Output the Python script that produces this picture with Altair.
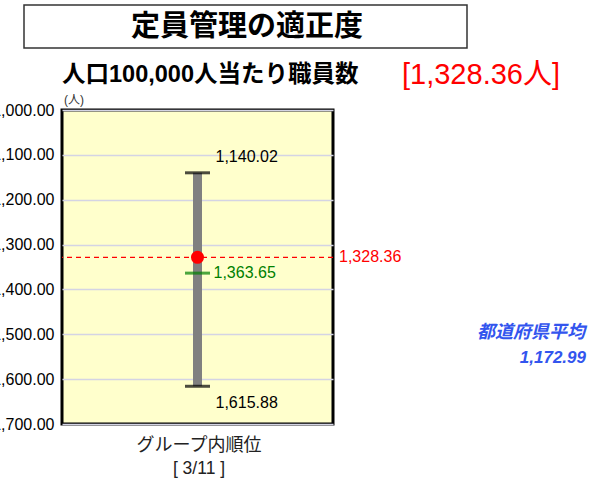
import altair as alt
import pandas as pd

# values
own_value = 1328.36
group_min = 1140.02
group_max = 1615.88
group_mid = 1363.65
pref_avg = 1172.99
rank = 3
group_n = 11
y_ticks = [1000, 1100, 1200, 1300, 1400, 1500, 1600, 1700]

FONT = "Liberation Sans, Arial, Noto Sans CJK JP"
JFONT = "Liberation Sans, Noto Sans CJK JP"

W, H = 271, 314

pos = pd.DataFrame({"x": [0.5], "lo": [group_min], "hi": [group_max],
                    "mid": [group_mid], "own": [own_value]})

xs = alt.Scale(domain=[0, 1])
ys = alt.Scale(domain=[1000, 1700], reverse=True, nice=False, zero=False)
X = alt.X("x:Q", scale=xs, axis=None)

base = alt.Chart(pos)

grid = alt.Chart(pd.DataFrame({"t": y_ticks})).mark_rule(opacity=0).encode(
    y=alt.Y("t:Q", scale=ys, axis=alt.Axis(
        values=y_ticks, format=",.2f", title=None, grid=True,
        gridColor="#d4d4e4", gridWidth=1.5, ticks=False, domain=False,
        labelFontSize=16, labelFont=FONT, labelColor="black", labelPadding=8))
)

bar = base.mark_rule(color="#808080", strokeWidth=9).encode(
    x=X, y=alt.Y("lo:Q", scale=ys), y2="hi:Q")
cap_lo = base.mark_tick(color="black", orient="horizontal", size=25, thickness=3).encode(
    x=X, y=alt.Y("lo:Q", scale=ys))
cap_hi = base.mark_tick(color="black", orient="horizontal", size=25, thickness=3).encode(
    x=X, y=alt.Y("hi:Q", scale=ys))
mid_tick = base.mark_tick(color="#008000", orient="horizontal", size=25, thickness=3).encode(
    x=X, y=alt.Y("mid:Q", scale=ys))
dash = base.mark_rule(color="red", strokeDash=[5, 4], strokeWidth=1.2).encode(
    y=alt.Y("own:Q", scale=ys))
dot = base.mark_circle(color="red", size=170, opacity=1).encode(
    x=X, y=alt.Y("own:Q", scale=ys))

lbl_lo = base.mark_text(align="left", baseline="middle", dx=18, dy=-16,
                        fontSize=16, font=FONT, color="black").encode(
    x=X, y=alt.Y("lo:Q", scale=ys), text=alt.Text("lo:Q", format=",.2f"))
lbl_hi = base.mark_text(align="left", baseline="middle", dx=18, dy=17,
                        fontSize=16, font=FONT, color="black").encode(
    x=X, y=alt.Y("hi:Q", scale=ys), text=alt.Text("hi:Q", format=",.2f"))
lbl_mid = base.mark_text(align="left", baseline="middle", dx=16, dy=0,
                         fontSize=16, font=FONT, color="#008000").encode(
    x=X, y=alt.Y("mid:Q", scale=ys), text=alt.Text("mid:Q", format=",.2f"))
lbl_own = base.mark_text(align="left", baseline="middle", fontSize=16,
                         font=FONT, color="red").encode(
    x=alt.value(W + 6), y=alt.Y("own:Q", scale=ys),
    text=alt.Text("own:Q", format=",.2f"))

# annotation texts
one = pd.DataFrame({"a": [0]})
title_box = alt.Chart(one).mark_rect(fill="white", stroke="#333333", strokeWidth=1.5).encode(
    x=alt.value(-38), x2=alt.value(405), y=alt.value(-105), y2=alt.value(-62))
title = alt.Chart(one).mark_text(text="定員管理の適正度", fontSize=29, fontWeight="bold",
                                 font=JFONT, align="center", baseline="middle", color="black").encode(
    x=alt.value(185), y=alt.value(-83))
subtitle = alt.Chart(one).mark_text(text="人口100,000人当たり職員数", fontSize=23.5, fontWeight="bold",
                                    font=JFONT, align="left", baseline="middle", color="black").encode(
    x=alt.value(0), y=alt.value(-35))
own_big = alt.Chart(one).mark_text(text=f"[{own_value:,.2f}人]", fontSize=29,
                                   font=JFONT, align="left", baseline="middle", color="#ff0000").encode(
    x=alt.value(340), y=alt.value(-35))
unit = alt.Chart(one).mark_text(text="(人)", fontSize=12, font=JFONT, align="left",
                                baseline="middle", color="#333333").encode(
    x=alt.value(2), y=alt.value(-10))
pref_t = alt.Chart(one).mark_text(text="都道府県平均", fontSize=18, fontWeight="bold", fontStyle="italic",
                                  font=JFONT, align="right", baseline="middle", color="#3355ee").encode(
    x=alt.value(523), y=alt.value(223))
pref_v = alt.Chart(one).mark_text(text=f"{pref_avg:,.2f}", fontSize=17, fontWeight="bold", fontStyle="italic",
                                  font=FONT, align="right", baseline="middle", color="#3355ee").encode(
    x=alt.value(524), y=alt.value(248))
rank_t = alt.Chart(one).mark_text(text="グループ内順位", fontSize=18, font=JFONT, align="center",
                                  baseline="middle", color="#222222").encode(
    x=alt.value(137), y=alt.value(336))
rank_v = alt.Chart(one).mark_text(text=f"[ {rank}/{group_n} ]", fontSize=17.5, font=FONT, align="center",
                                  baseline="middle", color="#222222").encode(
    x=alt.value(137), y=alt.value(359))

chart = alt.layer(
    grid, dash, bar, cap_lo, cap_hi, mid_tick, dot, lbl_lo, lbl_hi, lbl_mid, lbl_own,
    title_box, title, subtitle, own_big, unit, pref_t, pref_v, rank_t, rank_v
).properties(
    width=W, height=H,
    autosize=alt.AutoSizeParams(type="none"),
    padding={"left": 62, "top": 110, "right": 598 - 62 - W, "bottom": 487 - 110 - H},
    background="white",
).configure_view(fill="#ffffcc", stroke="black", strokeWidth=3)

chart.save("out.html", embed_options={"renderer": "svg", "actions": False})
